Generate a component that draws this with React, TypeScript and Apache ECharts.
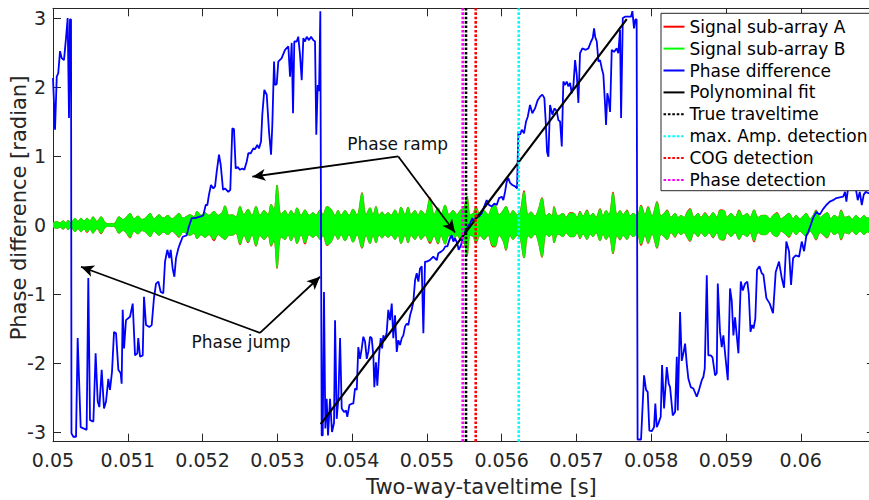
import React, { useEffect, useRef } from "react";
import * as echarts from "echarts";

const FONT = "'DejaVu Sans', Verdana, sans-serif";
const AXIS_COLOR = "#262626";

const X_MIN = 0.05;
const X_MAX = 0.06099;
const Y_MIN = -Math.PI;
const Y_MAX = Math.PI;

const xTickValues = [0.05, 0.051, 0.052, 0.053, 0.054, 0.055, 0.056, 0.057, 0.058, 0.059, 0.06];
const yTickValues = [-3, -2, -1, 0, 1, 2, 3];

// Envelope of the (densely oscillating) sub-array signals
const envTime = [
  0.05, 0.050053, 0.050094, 0.050134, 0.050174, 0.050201, 0.050241, 0.050294, 0.050334, 0.050374,
  0.050415, 0.050455, 0.050495, 0.050535, 0.050588, 0.050642, 0.050695, 0.050736, 0.050789, 0.050829,
  0.050883, 0.050936, 0.050976, 0.05103, 0.051083, 0.051137, 0.05119, 0.051244, 0.051297, 0.051351,
  0.051418, 0.051471, 0.051538, 0.051592, 0.051632, 0.051685, 0.051739, 0.051792, 0.051832, 0.051886,
  0.051926, 0.051979, 0.052033, 0.052086, 0.052153, 0.052207, 0.05226, 0.0523, 0.052354, 0.052394,
  0.052447, 0.052501, 0.052554, 0.052608, 0.052661, 0.052715, 0.052768, 0.052822, 0.052875, 0.052916,
  0.052956, 0.052996, 0.053049, 0.053103, 0.053143, 0.053183, 0.053223, 0.053263, 0.053317, 0.05337,
  0.053424, 0.053477, 0.053517, 0.053571, 0.053611, 0.053665, 0.053718, 0.053772, 0.053812, 0.053852,
  0.053905, 0.053959, 0.054012, 0.054066, 0.054133, 0.054186, 0.05424, 0.05428, 0.05432, 0.05436,
  0.0544, 0.05444, 0.05448, 0.05452, 0.054574, 0.054614, 0.054654, 0.054708, 0.054748, 0.054788,
  0.054841, 0.054882, 0.054922, 0.054975, 0.055042, 0.055096, 0.055149, 0.055189, 0.055243, 0.055296,
  0.05535, 0.055403, 0.055443, 0.055497, 0.055537, 0.055577, 0.055617, 0.055657, 0.055711, 0.055764,
  0.055818, 0.055871, 0.055911, 0.055965, 0.056018, 0.056058, 0.056112, 0.056152, 0.056206, 0.056246,
  0.056299, 0.056353, 0.056393, 0.056446, 0.056486, 0.05654, 0.056593, 0.056634, 0.056674, 0.0567,
  0.056754, 0.056821, 0.056861, 0.056914, 0.056968, 0.057008, 0.057048, 0.057088, 0.057142, 0.057182,
  0.057222, 0.057262, 0.057316, 0.057356, 0.057396, 0.057436, 0.057489, 0.057543, 0.057583, 0.057623,
  0.057677, 0.057717, 0.057757, 0.05781, 0.057864, 0.057917, 0.057958, 0.058011, 0.058078, 0.058131,
  0.058172, 0.058212, 0.058265, 0.058319, 0.058359, 0.058399, 0.058439, 0.058479, 0.058519, 0.058573,
  0.058626, 0.058666, 0.05872, 0.058773, 0.058827, 0.05888, 0.05892, 0.058974, 0.059014, 0.059068,
  0.059121, 0.059175, 0.059228, 0.059282, 0.059322, 0.059375, 0.059429, 0.059482, 0.059536, 0.059589,
  0.059629, 0.059683, 0.059736, 0.05979, 0.059843, 0.059897, 0.059937, 0.05999, 0.060031, 0.060071,
  0.060124, 0.060164, 0.060204, 0.060258, 0.060298, 0.060352, 0.060405, 0.060445, 0.060499, 0.060539,
  0.060592, 0.060646, 0.060686, 0.060739, 0.060793, 0.060846, 0.060886, 0.06095,
];

const signalBUpper = [
  0.03, 0.05, 0.03, 0.06, 0.03, 0.07, 0.03, 0.10, 0.05, 0.10,
  0.06, 0.10, 0.06, 0.12, 0.05, 0.12, 0.04, 0.02, 0.02, 0.03,
  0.12, 0.08, 0.11, 0.17, 0.09, 0.13, 0.08, 0.11, 0.17, 0.09,
  0.15, 0.10, 0.14, 0.09, 0.12, 0.17, 0.10, 0.13, 0.15, 0.12,
  0.20, 0.14, 0.18, 0.14, 0.20, 0.14, 0.18, 0.28, 0.14, 0.15,
  0.12, 0.27, 0.15, 0.23, 0.14, 0.27, 0.14, 0.21, 0.15, 0.30,
  0.22, 0.58, 0.15, 0.21, 0.14, 0.21, 0.15, 0.25, 0.14, 0.22,
  0.14, 0.18, 0.14, 0.21, 0.15, 0.27, 0.23, 0.14, 0.21, 0.14,
  0.21, 0.14, 0.23, 0.14, 0.46, 0.15, 0.25, 0.15, 0.27, 0.14,
  0.19, 0.14, 0.18, 0.14, 0.22, 0.14, 0.26, 0.15, 0.26, 0.15,
  0.21, 0.14, 0.21, 0.15, 0.39, 0.15, 0.25, 0.15, 0.29, 0.15,
  0.21, 0.15, 0.21, 0.26, 0.42, 0.15, 0.17, 0.26, 0.15, 0.21,
  0.15, 0.26, 0.28, 0.15, 0.21, 0.27, 0.15, 0.21, 0.15, 0.19,
  0.48, 0.15, 0.19, 0.13, 0.21, 0.39, 0.13, 0.17, 0.13, 0.26,
  0.13, 0.17, 0.11, 0.17, 0.17, 0.11, 0.19, 0.13, 0.21, 0.13,
  0.17, 0.11, 0.23, 0.13, 0.21, 0.15, 0.46, 0.15, 0.21, 0.15,
  0.21, 0.13, 0.17, 0.13, 0.28, 0.15, 0.26, 0.13, 0.33, 0.13,
  0.17, 0.21, 0.11, 0.17, 0.11, 0.14, 0.11, 0.18, 0.23, 0.11,
  0.17, 0.11, 0.17, 0.11, 0.18, 0.11, 0.21, 0.21, 0.11, 0.17,
  0.11, 0.21, 0.13, 0.17, 0.11, 0.22, 0.11, 0.14, 0.14, 0.09,
  0.14, 0.17, 0.09, 0.13, 0.17, 0.09, 0.14, 0.09, 0.13, 0.17,
  0.09, 0.14, 0.21, 0.11, 0.14, 0.18, 0.09, 0.14, 0.11, 0.21,
  0.11, 0.13, 0.08, 0.14, 0.09, 0.14, 0.10, 0.12,
];

const signalBLower = [
  -0.03, -0.05, -0.03, -0.06, -0.03, -0.07, -0.03, -0.10, -0.05, -0.10,
  -0.06, -0.10, -0.06, -0.12, -0.05, -0.12, -0.04, -0.02, -0.02, -0.03,
  -0.12, -0.08, -0.11, -0.18, -0.09, -0.13, -0.08, -0.11, -0.17, -0.09,
  -0.15, -0.10, -0.14, -0.09, -0.12, -0.17, -0.10, -0.13, -0.15, -0.12,
  -0.20, -0.14, -0.18, -0.14, -0.21, -0.14, -0.18, -0.21, -0.15, -0.15,
  -0.12, -0.28, -0.15, -0.25, -0.14, -0.30, -0.15, -0.21, -0.15, -0.30,
  -0.22, -0.62, -0.17, -0.21, -0.14, -0.23, -0.15, -0.27, -0.14, -0.26,
  -0.14, -0.18, -0.14, -0.21, -0.15, -0.29, -0.25, -0.14, -0.21, -0.14,
  -0.23, -0.14, -0.25, -0.14, -0.33, -0.15, -0.27, -0.15, -0.26, -0.14,
  -0.19, -0.14, -0.18, -0.14, -0.21, -0.14, -0.27, -0.15, -0.26, -0.15,
  -0.21, -0.14, -0.21, -0.15, -0.25, -0.16, -0.27, -0.15, -0.28, -0.15,
  -0.21, -0.15, -0.21, -0.26, -0.45, -0.15, -0.17, -0.26, -0.15, -0.21,
  -0.15, -0.29, -0.31, -0.15, -0.23, -0.36, -0.15, -0.21, -0.15, -0.19,
  -0.48, -0.15, -0.19, -0.13, -0.23, -0.46, -0.13, -0.17, -0.13, -0.26,
  -0.13, -0.17, -0.11, -0.17, -0.17, -0.11, -0.19, -0.13, -0.21, -0.13,
  -0.17, -0.11, -0.23, -0.13, -0.21, -0.15, -0.41, -0.15, -0.21, -0.15,
  -0.21, -0.13, -0.17, -0.13, -0.28, -0.15, -0.26, -0.13, -0.33, -0.13,
  -0.17, -0.21, -0.11, -0.17, -0.11, -0.14, -0.11, -0.18, -0.23, -0.11,
  -0.17, -0.11, -0.17, -0.11, -0.18, -0.11, -0.21, -0.21, -0.11, -0.17,
  -0.11, -0.21, -0.13, -0.17, -0.11, -0.23, -0.11, -0.14, -0.14, -0.09,
  -0.14, -0.17, -0.09, -0.13, -0.17, -0.09, -0.14, -0.09, -0.13, -0.17,
  -0.09, -0.14, -0.21, -0.11, -0.14, -0.18, -0.09, -0.14, -0.11, -0.21,
  -0.11, -0.13, -0.08, -0.14, -0.09, -0.14, -0.10, -0.12,
];

const signalAUpper = [
  0.03, 0.05, 0.03, 0.06, 0.03, 0.07, 0.03, 0.10, 0.05, 0.10,
  0.06, 0.10, 0.06, 0.12, 0.05, 0.12, 0.04, 0.02, 0.02, 0.03,
  0.12, 0.08, 0.11, 0.17, 0.09, 0.13, 0.08, 0.11, 0.17, 0.09,
  0.15, 0.10, 0.14, 0.09, 0.12, 0.17, 0.10, 0.13, 0.15, 0.12,
  0.20, 0.14, 0.18, 0.14, 0.20, 0.14, 0.18, 0.28, 0.14, 0.15,
  0.12, 0.27, 0.15, 0.23, 0.14, 0.27, 0.14, 0.21, 0.15, 0.30,
  0.22, 0.58, 0.15, 0.21, 0.14, 0.21, 0.15, 0.25, 0.14, 0.22,
  0.14, 0.18, 0.14, 0.22, 0.15, 0.27, 0.23, 0.14, 0.21, 0.14,
  0.21, 0.14, 0.23, 0.14, 0.47, 0.15, 0.25, 0.15, 0.27, 0.14,
  0.19, 0.14, 0.18, 0.14, 0.22, 0.14, 0.26, 0.15, 0.26, 0.15,
  0.21, 0.14, 0.21, 0.15, 0.40, 0.15, 0.25, 0.15, 0.29, 0.15,
  0.21, 0.15, 0.21, 0.26, 0.42, 0.15, 0.17, 0.26, 0.15, 0.21,
  0.15, 0.26, 0.28, 0.15, 0.21, 0.27, 0.15, 0.21, 0.15, 0.19,
  0.50, 0.15, 0.19, 0.13, 0.21, 0.40, 0.13, 0.17, 0.13, 0.27,
  0.13, 0.17, 0.11, 0.18, 0.17, 0.11, 0.20, 0.13, 0.22, 0.13,
  0.17, 0.11, 0.24, 0.13, 0.21, 0.15, 0.48, 0.15, 0.21, 0.15,
  0.22, 0.13, 0.17, 0.13, 0.29, 0.15, 0.27, 0.13, 0.34, 0.13,
  0.17, 0.22, 0.11, 0.17, 0.11, 0.14, 0.11, 0.19, 0.24, 0.11,
  0.17, 0.11, 0.18, 0.11, 0.18, 0.11, 0.22, 0.21, 0.11, 0.17,
  0.11, 0.22, 0.13, 0.17, 0.11, 0.22, 0.11, 0.14, 0.14, 0.09,
  0.14, 0.18, 0.09, 0.13, 0.17, 0.09, 0.14, 0.09, 0.13, 0.17,
  0.09, 0.14, 0.22, 0.11, 0.14, 0.18, 0.09, 0.14, 0.11, 0.22,
  0.11, 0.13, 0.08, 0.14, 0.09, 0.14, 0.10, 0.12,
];

const signalALower = [
  -0.03, -0.05, -0.03, -0.06, -0.03, -0.07, -0.03, -0.10, -0.05, -0.10,
  -0.06, -0.11, -0.06, -0.12, -0.05, -0.13, -0.04, -0.02, -0.02, -0.03,
  -0.12, -0.08, -0.11, -0.19, -0.09, -0.13, -0.08, -0.11, -0.17, -0.09,
  -0.15, -0.10, -0.14, -0.09, -0.12, -0.18, -0.10, -0.13, -0.15, -0.12,
  -0.20, -0.14, -0.18, -0.14, -0.23, -0.14, -0.18, -0.21, -0.15, -0.15,
  -0.12, -0.29, -0.15, -0.26, -0.14, -0.31, -0.15, -0.21, -0.15, -0.31,
  -0.22, -0.63, -0.17, -0.21, -0.14, -0.23, -0.15, -0.27, -0.14, -0.28,
  -0.14, -0.18, -0.14, -0.21, -0.15, -0.30, -0.25, -0.14, -0.21, -0.14,
  -0.23, -0.14, -0.25, -0.14, -0.34, -0.15, -0.27, -0.15, -0.26, -0.14,
  -0.19, -0.14, -0.18, -0.14, -0.21, -0.14, -0.27, -0.15, -0.26, -0.15,
  -0.21, -0.14, -0.21, -0.15, -0.27, -0.16, -0.28, -0.15, -0.28, -0.15,
  -0.21, -0.15, -0.21, -0.26, -0.45, -0.15, -0.17, -0.26, -0.15, -0.21,
  -0.15, -0.31, -0.32, -0.15, -0.23, -0.37, -0.15, -0.21, -0.15, -0.19,
  -0.48, -0.15, -0.19, -0.13, -0.23, -0.47, -0.13, -0.17, -0.13, -0.26,
  -0.13, -0.17, -0.11, -0.17, -0.17, -0.11, -0.20, -0.13, -0.21, -0.13,
  -0.17, -0.11, -0.23, -0.13, -0.21, -0.15, -0.42, -0.15, -0.22, -0.15,
  -0.21, -0.13, -0.17, -0.13, -0.30, -0.15, -0.27, -0.13, -0.34, -0.13,
  -0.17, -0.21, -0.11, -0.18, -0.11, -0.14, -0.11, -0.18, -0.24, -0.11,
  -0.17, -0.11, -0.17, -0.11, -0.19, -0.11, -0.21, -0.22, -0.11, -0.17,
  -0.11, -0.21, -0.13, -0.17, -0.11, -0.25, -0.11, -0.14, -0.14, -0.09,
  -0.14, -0.17, -0.09, -0.13, -0.18, -0.09, -0.14, -0.09, -0.13, -0.17,
  -0.09, -0.14, -0.22, -0.11, -0.14, -0.19, -0.09, -0.14, -0.11, -0.22,
  -0.11, -0.13, -0.08, -0.14, -0.09, -0.14, -0.10, -0.12,
];

// Phase difference: [time (s), phase (rad)]
const phaseDifference: [number, number][] = [
  [0.05, 2.13], [0.050027, 1.38], [0.05005, 2.15], [0.05007, 2.2], [0.050094, 2.52], [0.050116, 2.42],
  [0.050147, 2.39], [0.050174, 2.71], [0.050196, 3.0], [0.050214, 1.55], [0.050227, 2.98], [0.050241, 2.98],
  [0.050247, -3.02], [0.050272, -3.07], [0.050308, -3.07], [0.05033, -1.64], [0.05037, -2.93], [0.05045, -2.97],
  [0.050472, -0.77], [0.050495, -2.83], [0.05054, -2.85], [0.05057, -1.86], [0.050598, -2.56], [0.05062, -2.64],
  [0.050651, -2.1], [0.050682, -2.66], [0.050709, -2.56], [0.05074, -2.23], [0.050762, -2.39], [0.050789, -2.13],
  [0.050816, -1.55], [0.050843, -1.57], [0.050874, -2.1], [0.050905, -2.15], [0.050918, -2.3], [0.050932, -1.23],
  [0.05095, -1.79], [0.050976, -1.38], [0.05103, -1.33], [0.051066, -1.14], [0.051097, -1.89], [0.051128, -1.86],
  [0.05114, -1.64], [0.051164, -1.91], [0.0512, -1.89], [0.051217, -1.04], [0.051244, -1.45], [0.051288, -1.48],
  [0.05132, -1.45], [0.05135, -1.06], [0.051378, -0.85], [0.051409, -0.82], [0.05144, -0.97], [0.051475, -0.99],
  [0.051498, -0.53], [0.051529, -0.36], [0.051556, -0.48], [0.051574, -0.36], [0.0516, -0.63], [0.051623, -0.75],
  [0.051645, -0.48], [0.051676, -0.34], [0.051699, -0.27], [0.051735, -0.17], [0.051788, -0.15], [0.051815, -0.03],
  [0.051855, 0.1], [0.0519, 0.1], [0.051966, 0.12], [0.05201, 0.14], [0.052042, 0.29], [0.052064, 0.29],
  [0.052086, 0.44], [0.052113, 0.58], [0.052144, 0.53], [0.052167, 0.56], [0.052189, 0.77], [0.05222, 1.02],
  [0.052243, 0.87], [0.052274, 0.51], [0.0523, 0.53], [0.052345, 0.48], [0.052371, 0.51], [0.052398, 1.4],
  [0.05242, 1.39], [0.052443, 0.82], [0.05247, 0.84], [0.052501, 0.8], [0.052532, 0.82], [0.052559, 0.8],
  [0.052591, 0.92], [0.052612, 1.04], [0.052644, 1.04], [0.052679, 1.11], [0.052702, 1.1], [0.052732, 1.16],
  [0.052755, 1.11], [0.052782, 1.21], [0.052799, 1.6], [0.052826, 1.96], [0.052858, 1.89], [0.052889, 1.35],
  [0.052916, 1.02], [0.052933, 1.45], [0.052956, 2.37], [0.052969, 2.03], [0.052992, 2.04], [0.053013, 2.37],
  [0.053058, 2.42], [0.053103, 2.54], [0.053147, 2.59], [0.05317, 2.15], [0.053192, 2.64], [0.05321, 1.62],
  [0.053227, 2.66], [0.053259, 2.66], [0.05328, 2.73], [0.053303, 2.47], [0.053326, 2.1], [0.053348, 2.71],
  [0.05337, 2.66], [0.053393, 2.73], [0.053424, 2.68], [0.053451, 2.73], [0.053481, 2.68], [0.053504, 2.66],
  [0.053521, 1.31], [0.05354, 2.03], [0.053558, 1.94], [0.053575, 3.1], [0.053593, -3.05], [0.053607, -3.05],
  [0.053624, -0.97], [0.053642, -2.95], [0.05366, -2.52], [0.053678, -3.05], [0.053705, -2.52], [0.053731, -3.0],
  [0.053758, -2.87], [0.053772, -1.38], [0.053794, -2.81], [0.053816, -2.52], [0.053839, -1.64], [0.053861, -2.66],
  [0.053892, -2.71], [0.053919, -2.69], [0.053936, -2.78], [0.053963, -2.61], [0.053994, -2.59], [0.054016, -2.59],
  [0.054039, -2.37], [0.054062, -2.39], [0.054083, -1.77], [0.054106, -1.94], [0.054129, -1.79], [0.05415, -1.62],
  [0.054173, -1.69], [0.054196, -1.94], [0.054217, -1.84], [0.05424, -1.62], [0.054262, -1.64], [0.054284, -1.89],
  [0.054297, -2.35], [0.054319, -1.99], [0.054337, -2.33], [0.054364, -1.84], [0.054383, -1.64], [0.054401, -1.79],
  [0.054418, -1.6], [0.054441, -1.67], [0.054463, -1.55], [0.054484, -1.23], [0.054507, -1.38], [0.05453, -1.14],
  [0.054551, -1.64], [0.054574, -1.31], [0.054597, -1.84], [0.054618, -1.67], [0.054641, -1.74], [0.054664, -1.64],
  [0.054685, -1.6], [0.054708, -1.47], [0.05473, -1.43], [0.054752, -1.45], [0.054775, -1.31], [0.054797, -1.23],
  [0.054819, -1.11], [0.054842, -0.8], [0.054864, -0.7], [0.054886, -0.82], [0.054908, -0.63], [0.054931, -0.6],
  [0.054953, -1.57], [0.054975, -0.53], [0.054998, -0.53], [0.05504, -0.51], [0.055086, -0.46], [0.055132, -0.51],
  [0.055153, -0.41], [0.055185, -0.39], [0.05522, -0.36], [0.055247, -0.31], [0.055274, -0.31], [0.055309, -0.19],
  [0.055332, -0.15], [0.055354, -0.24], [0.055376, -0.19], [0.055407, -0.27], [0.055425, -0.36], [0.055457, -0.29],
  [0.055487, -0.15], [0.055532, -0.05], [0.055577, 0.02], [0.055607, 0.1], [0.055634, 0.05], [0.055666, 0.145],
  [0.055697, 0.12], [0.055733, 0.17], [0.055768, 0.27], [0.0558, 0.36], [0.055831, 0.29], [0.055867, 0.27],
  [0.055902, 0.31], [0.055934, 0.29], [0.055965, 0.39], [0.056001, 0.41], [0.056022, 0.36], [0.056045, 0.48],
  [0.056068, 0.63], [0.056089, 0.68], [0.056112, 0.61], [0.056143, 0.58], [0.056179, 0.56], [0.056206, 0.53],
  [0.056223, 1.35], [0.056246, 1.31], [0.056269, 1.38], [0.056299, 1.33], [0.056326, 1.5], [0.056349, 1.57],
  [0.056379, 1.74], [0.05641, 1.62], [0.056446, 1.69], [0.056482, 1.81], [0.056513, 1.86], [0.056544, 1.89],
  [0.056571, 1.84], [0.056589, 1.5], [0.056607, 1.06], [0.056625, 0.99], [0.056647, 1.74], [0.056678, 1.6],
  [0.056705, 1.69], [0.056737, 1.65], [0.056758, 1.52], [0.056781, 1.5], [0.056804, 1.14], [0.056825, 2.08],
  [0.056848, 2.03], [0.05687, 2.08], [0.056892, 2.01], [0.056915, 2.06], [0.056937, 1.91], [0.056959, 2.01],
  [0.056982, 2.39], [0.057004, 2.18], [0.057026, 1.77], [0.057048, 2.49], [0.057079, 2.56], [0.057124, 2.54],
  [0.05716, 2.56], [0.057195, 2.66], [0.057218, 2.71], [0.057236, 2.85], [0.05725, 2.73], [0.057272, 2.66],
  [0.057294, 2.37], [0.057316, 2.39], [0.057339, 2.27], [0.05736, 2.18], [0.057383, 1.74], [0.057396, 1.45],
  [0.057413, 1.91], [0.057432, 1.81], [0.05745, 1.64], [0.057472, 2.54], [0.057503, 2.51], [0.057539, 2.56],
  [0.05756, 2.49], [0.057583, 2.83], [0.057597, 1.55], [0.05762, 3.0], [0.05765, 3.02], [0.057694, 3.02],
  [0.05773, 3.02], [0.057748, 3.1], [0.05777, 2.85], [0.057788, 2.98], [0.057805, 2.98], [0.057818, -3.11],
  [0.057864, -3.11], [0.057904, -2.18], [0.057931, -2.39], [0.057953, -2.42], [0.057975, -2.98], [0.058007, -2.99],
  [0.058038, -2.93], [0.058055, -2.59], [0.058074, -2.93], [0.058095, -2.88], [0.058127, -2.78], [0.058145, -2.03],
  [0.058172, -2.66], [0.058208, -2.06], [0.058234, -2.3], [0.058252, -2.35], [0.058288, -2.76], [0.058319, -2.71],
  [0.058342, -1.91], [0.058355, -2.69], [0.058386, -1.26], [0.058408, -1.97], [0.05843, -1.86], [0.058453, -1.72],
  [0.058475, -2.01], [0.058497, -2.23], [0.058529, -2.35], [0.058564, -2.37], [0.058609, -2.49], [0.05864, -2.39],
  [0.058676, -2.25], [0.058698, -2.2], [0.058716, -2.08], [0.058743, -0.73], [0.058764, -1.89], [0.058796, -1.89],
  [0.05882, -1.92], [0.058854, -2.18], [0.058876, -2.15], [0.05889, -0.85], [0.05892, -1.55], [0.058943, -1.77],
  [0.058965, -1.6], [0.058992, -1.91], [0.059024, -2.25], [0.059054, -0.92], [0.059077, -1.1], [0.059099, -1.6],
  [0.059121, -1.34], [0.059166, -1.86], [0.059198, -0.82], [0.059224, -0.95], [0.059255, -0.85], [0.059285, -0.82],
  [0.059305, -1.0], [0.059328, -1.55], [0.059348, -1.45], [0.059368, -1.5], [0.059392, -1.36], [0.059415, -0.65],
  [0.059448, -0.6], [0.059478, -0.7], [0.0595, -0.72], [0.05954, -1.06], [0.059585, -1.14], [0.059629, -1.28],
  [0.059665, -0.68], [0.059709, -0.53], [0.059746, -0.77], [0.059776, -0.91], [0.059807, -0.24], [0.059843, -0.38],
  [0.05987, -0.87], [0.059897, -0.48], [0.059933, -0.44], [0.059977, -0.46], [0.060013, -0.24], [0.060044, -0.38],
  [0.060075, -0.15], [0.060101, -0.1], [0.060133, 0.0], [0.060164, 0.1], [0.060208, 0.19], [0.060254, 0.15],
  [0.060298, 0.23], [0.060342, 0.29], [0.060388, 0.34], [0.060432, 0.36], [0.060476, 0.39], [0.060521, 0.4],
  [0.060566, 0.41], [0.060592, 0.48], [0.06061, 0.34], [0.060636, 0.56], [0.060668, 0.73], [0.060699, 0.9],
  [0.060717, 0.63], [0.060743, 0.48], [0.060762, 0.36], [0.060789, 0.48], [0.060816, 0.29], [0.060842, 0.44],
  [0.060869, 0.48], [0.06093, 0.45], [0.06099, 0.42],
];

const fitTime = [0.05358, 0.057673];
const fitValue = [-2.888, 2.985];

const trueTraveltime = 0.055523;
const maxAmpDetection = 0.056228;
const cogDetection = 0.055653;
const phaseDetection = 0.055479;

const rampLabelAt: [number, number] = [0.054609, 1.17];
const rampArrows: [number, number][][] = [
  [[0.054618, 0.994], [0.052666, 0.7]],
  [[0.054618, 0.994], [0.055376, -0.11]],
];
const jumpLabelAt: [number, number] = [0.052514, -1.69];
const jumpArrows: [number, number][][] = [
  [[0.052768, -1.563], [0.050374, -0.605]],
  [[0.052768, -1.563], [0.053571, -0.75]],
];

const legendNames = [
  "Signal sub-array A",
  "Signal sub-array B",
  "Phase difference",
  "Polynominal fit",
  "True traveltime",
  "max. Amp. detection",
  "COG detection",
  "Phase detection",
];

const zip = (xs: number[], ys: number[]) => xs.map((x, i) => [x, ys[i]]);

export default function App() {
  const ref = useRef<HTMLDivElement>(null);

  useEffect(() => {
    if (!ref.current) return;
    const chart = echarts.init(ref.current, null, { renderer: "svg" });

    const envSeries = (name: string, ys: number[], color: string, z: number) => ({
      name,
      type: "line",
      data: zip(envTime, ys),
      symbol: "none",
      showSymbol: false,
      smooth: 0.35,
      lineStyle: { color, width: 0.8 },
      itemStyle: { color },
      areaStyle: { color, opacity: 1 },
      z,
      silent: true,
      emphasis: { disabled: true },
    });

    const vline = (name: string, t: number, color: string) => ({
      name,
      type: "line",
      data: [
        [t, Y_MIN],
        [t, Y_MAX],
      ],
      symbol: "none",
      showSymbol: false,
      lineStyle: { color, width: 2.6, type: [2.6, 1.8] },
      itemStyle: { color },
      z: 6,
      silent: true,
      emphasis: { disabled: true },
    });

    const arrowData = [...rampArrows, ...jumpArrows].map(([from, to]) => [
      { coord: from, symbol: "none" },
      { coord: to, symbol: "arrow", symbolSize: [9, 13] },
    ]);

    const commonAxisLine = { show: true, onZero: false, lineStyle: { color: AXIS_COLOR, width: 1 } };

    const option: any = {
      animation: false,
      backgroundColor: "#ffffff",
      grid: {
        left: 53,
        top: 8.3,
        right: 1.2,
        bottom: 58.3,
        containLabel: false,
        outerBoundsMode: "none",
      },
      xAxis: [
        {
          type: "value",
          min: X_MIN,
          max: X_MAX,
          position: "bottom",
          axisLine: commonAxisLine,
          axisTick: { show: true, inside: true, length: 8, customValues: xTickValues, lineStyle: { color: AXIS_COLOR } },
          axisLabel: {
            show: true,
            customValues: xTickValues,
            formatter: (v: number) => String(v),
            margin: 9,
            fontSize: 19,
            fontFamily: FONT,
            color: AXIS_COLOR,
          },
          splitLine: { show: false },
          name: "Two-way-taveltime [s]",
          nameLocation: "middle",
          nameGap: 35,
          nameMoveOverlap: false,
          nameTextStyle: { fontSize: 21, fontFamily: FONT, color: AXIS_COLOR, padding: [0, 0, 0, 35] },
        },
        {
          type: "value",
          min: X_MIN,
          max: X_MAX,
          position: "top",
          axisLine: commonAxisLine,
          axisTick: { show: true, inside: true, length: 8, customValues: xTickValues, lineStyle: { color: AXIS_COLOR } },
          axisLabel: { show: false },
          splitLine: { show: false },
        },
      ],
      yAxis: [
        {
          type: "value",
          min: Y_MIN,
          max: Y_MAX,
          position: "left",
          axisLine: commonAxisLine,
          axisTick: { show: true, inside: true, length: 8, customValues: yTickValues, lineStyle: { color: AXIS_COLOR } },
          axisLabel: {
            show: true,
            customValues: yTickValues,
            formatter: (v: number) => String(v),
            margin: 7,
            fontSize: 19,
            fontFamily: FONT,
            color: AXIS_COLOR,
          },
          splitLine: { show: false },
          name: "Phase difference [radian]",
          nameLocation: "middle",
          nameGap: 24,
          nameMoveOverlap: false,
          nameTextStyle: { fontSize: 21, fontFamily: FONT, color: AXIS_COLOR, padding: [0, 0, 0, 34] },
        },
        {
          type: "value",
          min: Y_MIN,
          max: Y_MAX,
          position: "right",
          axisLine: commonAxisLine,
          axisTick: { show: true, inside: true, length: 8, customValues: yTickValues, lineStyle: { color: AXIS_COLOR } },
          axisLabel: { show: false },
          splitLine: { show: false },
        },
      ],
      legend: {
        data: legendNames,
        orient: "vertical",
        left: 661,
        top: 13.3,
        padding: [4.4, 3.5, 1.7, 1.5],
        itemGap: 3.9,
        itemWidth: 21,
        itemHeight: 14,
        itemStyle: { opacity: 0 },
        backgroundColor: "#ffffff",
        borderColor: AXIS_COLOR,
        borderWidth: 1,
        borderRadius: 0,
        selectedMode: false,
        textStyle: { fontSize: 17, fontFamily: FONT, color: "#000000", lineHeight: 18 },
        z: 20,
      },
      series: [
        envSeries("Signal sub-array A", signalAUpper, "#ff0000", 1),
        envSeries("Signal sub-array A", signalALower, "#ff0000", 1),
        envSeries("Signal sub-array B", signalBUpper, "#00ff00", 2),
        envSeries("Signal sub-array B", signalBLower, "#00ff00", 2),
        {
          name: "Phase difference",
          type: "line",
          data: phaseDifference,
          symbol: "none",
          showSymbol: false,
          lineStyle: { color: "#0000ff", width: 1.8 },
          itemStyle: { color: "#0000ff" },
          z: 3,
          silent: true,
          emphasis: { disabled: true },
        },
        {
          name: "Polynominal fit",
          type: "line",
          data: zip(fitTime, fitValue),
          symbol: "none",
          showSymbol: false,
          lineStyle: { color: "#000000", width: 2.2 },
          itemStyle: { color: "#000000" },
          z: 4,
          silent: true,
          emphasis: { disabled: true },
        },
        vline("True traveltime", trueTraveltime, "#000000"),
        vline("max. Amp. detection", maxAmpDetection, "#00ffff"),
        vline("COG detection", cogDetection, "#ff0000"),
        vline("Phase detection", phaseDetection, "#ff00ff"),
        {
          name: "Annotations",
          type: "line",
          data: [],
          z: 10,
          silent: true,
          markLine: {
            silent: true,
            animation: false,
            symbol: ["none", "arrow"],
            lineStyle: { color: "#000000", width: 1.8, type: "solid" },
            label: { show: false },
            emphasis: { disabled: true },
            data: arrowData,
          },
          markPoint: {
            silent: true,
            animation: false,
            symbol: "rect",
            symbolSize: 1,
            itemStyle: { color: "rgba(0,0,0,0)" },
            label: {
              show: true,
              position: "inside",
              formatter: "{b}",
              fontSize: 17,
              fontFamily: FONT,
              color: "#111111",
            },
            emphasis: { disabled: true },
            data: [
              { name: "Phase ramp", coord: rampLabelAt },
              { name: "Phase jump", coord: jumpLabelAt },
            ],
          },
        },
      ],
    };

    chart.setOption(option);
    return () => chart.dispose();
  }, []);

  return (
    <div
      style={{
        position: "absolute",
        left: 0,
        top: 0,
        width: 869,
        height: 500,
        overflow: "hidden",
        background: "#ffffff",
      }}
    >
      <div ref={ref} style={{ width: 876, height: 500 }} />
    </div>
  );
}
